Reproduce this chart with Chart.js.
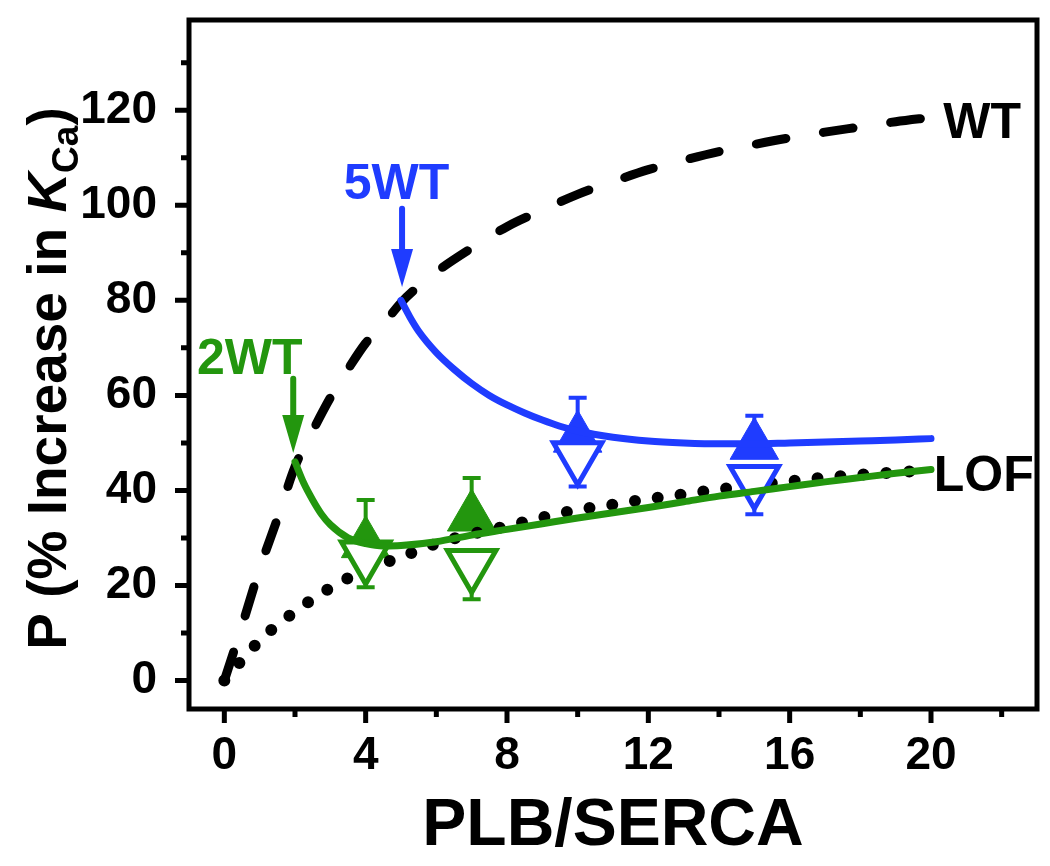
<!DOCTYPE html>
<html lang="en">
<head>
<meta charset="UTF-8">
<title>P vs PLB/SERCA</title>
<script src="https://cdn.jsdelivr.net/npm/chart.js"></script>
<style>
  html, body { margin: 0; padding: 0; background: #fff; }
  #wrap { width: 1050px; height: 866px; }
</style>
</head>
<body>
<div id="wrap"><canvas id="pChart"></canvas></div>
<script>
// WT simulation (dashed)
const wtX = [0, 0.5, 1, 1.5, 2, 2.5, 3, 3.5, 4, 4.5, 5, 5.5, 6, 7, 8, 9, 10, 11, 12, 13, 14, 15, 16, 17, 18, 19, 20];
const wtY = [0, 11.5, 23.5, 34, 45, 52.5, 59.5, 65.5, 71, 75, 79.5, 83, 86, 91, 95.5, 99, 102.3, 105, 107.5, 109.5, 111.3, 112.8, 114.2, 115.4, 116.5, 117.6, 118.5];
// LOF simulation (dotted)
const lofX = [0, 0.5, 1, 1.5, 2, 3, 4, 5, 6, 7, 8, 9, 10, 11, 12, 13, 14, 15, 16, 17, 18, 19, 20];
const lofY = [0, 4.3, 8.4, 11.7, 14.5, 19.5, 23.3, 26, 28.8, 30.8, 32.5, 34.3, 35.9, 37, 38.2, 39.2, 40.2, 41.1, 41.9, 42.7, 43.3, 43.8, 44.3];
// 2WT fit (green)
const fit2X = [2, 2.25, 2.5, 2.75, 3, 3.5, 4, 4.5, 5, 6, 7, 8, 9, 10, 11, 12, 13, 14, 15, 16, 17, 18, 19, 20];
const fit2Y = [46, 41.5, 38, 35, 32.8, 30, 28.8, 28.3, 28.4, 29.2, 30.6, 31.8, 33, 34.2, 35.3, 36.4, 37.6, 38.8, 39.8, 40.8, 41.8, 42.7, 43.6, 44.4];
// 5WT fit (blue)
const fit5X = [5, 5.25, 5.5, 6, 6.5, 7, 7.5, 8, 8.5, 9, 9.5, 10, 11, 12, 13, 14, 15, 16, 17, 18, 19, 20];
const fit5Y = [80, 76.5, 73.5, 69, 65.5, 62.5, 60, 58, 56.3, 54.8, 53.5, 52.5, 51.2, 50.4, 50, 49.8, 49.8, 50, 50.2, 50.4, 50.6, 50.9];
// measured points
const greenX = [4, 7];
const greenUp = [28.8, 34.4];
const greenUpErr = [9.2, 8.2];
const greenDown = [26.2, 24.4];
const greenDownErr = [6.6, 7.3];
const blueX = [10, 15];
const blueUp = [51, 49.5];
const blueUpErr = [8.5, 6.2];
const blueDown = [47.1, 42.1];
const blueDownErr = [6.3, 7.1];
// axis ticks
const xMajor = [0, 4, 8, 12, 16, 20];
const xMinor = [2, 6, 10, 14, 18, 22];
const yMajor = [0, 20, 40, 60, 80, 100, 120];
const yMinor = [10, 30, 50, 70, 90, 110, 130];
// labels and arrows
const noteText = ['WT', 'LOF', '5WT', '2WT'];
const noteX = [20.35, 20.08, 4.87, 0.72];
const noteY = [114.2, 39.8, 101.4, 64.5];
const arrowX = [1.95, 5.03];
const arrowFrom = [63.5, 99.3];
const arrowTo = [47.9, 82.8];

const BLUE = '#1f3cff';
const GREEN = '#23960e';
const FONT = 'Arial, "Liberation Sans", sans-serif';

const pts = (xs, ys) => xs.map((x, i) => ({x: x, y: ys[i]}));

function curve(label, xs, ys, color, order, extra) {
    return Object.assign({
        label: label,
        data: pts(xs, ys),
        showLine: true,
        pointRadius: 0,
        borderColor: color,
        borderWidth: 7,
        borderCapStyle: 'round',
        cubicInterpolationMode: 'monotone',
        fill: false,
        order: order
    }, extra || {});
}

function marks(label, xs, ys, color, open, order) {
    return {
        label: label,
        data: pts(xs, ys),
        showLine: false,
        pointStyle: 'triangle',
        rotation: open ? 180 : 0,
        pointRadius: 28,
        backgroundColor: open ? '#ffffff' : color,
        borderColor: color,
        borderWidth: open ? 5 : 1,
        clip: false,
        order: order
    };
}

// error bars drawn under the markers
const errorBars = {
    id: 'errorBars',
    beforeDatasetsDraw(chart) {
        const ctx = chart.ctx, xs = chart.scales.x, ys = chart.scales.y;
        const sets = [
            [greenX, greenUp, greenUpErr, 1, GREEN],
            [greenX, greenDown, greenDownErr, -1, GREEN],
            [blueX, blueUp, blueUpErr, 1, BLUE],
            [blueX, blueDown, blueDownErr, -1, BLUE]
        ];
        ctx.save();
        ctx.lineWidth = 4;
        sets.forEach(s => {
            ctx.strokeStyle = s[4];
            s[0].forEach((x, i) => {
                const px = xs.getPixelForValue(x);
                const p0 = ys.getPixelForValue(s[1][i]);
                const p1 = ys.getPixelForValue(s[1][i] + s[3] * s[2][i]);
                ctx.beginPath();
                ctx.moveTo(px, p0); ctx.lineTo(px, p1);
                ctx.moveTo(px - 9, p1); ctx.lineTo(px + 9, p1);
                ctx.stroke();
            });
        });
        ctx.restore();
    }
};

// frame, tick marks, y title, text labels and arrows
const decor = {
    id: 'decor',
    afterDraw(chart) {
        const ctx = chart.ctx, xs = chart.scales.x, ys = chart.scales.y;
        const a = chart.chartArea;
        ctx.save();
        ctx.strokeStyle = '#000';
        ctx.lineWidth = 5;
        ctx.strokeRect(a.left, a.top, a.right - a.left, a.bottom - a.top);
        ctx.beginPath();
        xMajor.forEach(v => { const p = xs.getPixelForValue(v); ctx.moveTo(p, a.bottom); ctx.lineTo(p, a.bottom + 14); });
        xMinor.forEach(v => { const p = xs.getPixelForValue(v); ctx.moveTo(p, a.bottom); ctx.lineTo(p, a.bottom + 8); });
        yMajor.forEach(v => { const p = ys.getPixelForValue(v); ctx.moveTo(a.left, p); ctx.lineTo(a.left - 14, p); });
        yMinor.forEach(v => { const p = ys.getPixelForValue(v); ctx.moveTo(a.left, p); ctx.lineTo(a.left - 8, p); });
        ctx.stroke();

        // y title: P (% Increase in K_Ca)
        ctx.translate(66, (a.top + a.bottom) / 2 + 14);
        ctx.rotate(-Math.PI / 2);
        ctx.fillStyle = '#000';
        ctx.textBaseline = 'alphabetic';
        ctx.textAlign = 'left';
        const parts = [
            ['P (% Increase in ', 'bold 55px ' + FONT, 0],
            ['K', 'italic bold 55px ' + FONT, 0],
            ['Ca', 'bold 37px ' + FONT, 12],
            [')', 'bold 55px ' + FONT, 0]
        ];
        let total = 0;
        parts.forEach(p => { ctx.font = p[1]; total += ctx.measureText(p[0]).width; });
        let cx = -total / 2;
        parts.forEach(p => {
            ctx.font = p[1];
            ctx.fillText(p[0], cx, p[2]);
            cx += ctx.measureText(p[0]).width;
        });
        ctx.restore();
    },
    afterDatasetsDraw(chart) {
        const ctx = chart.ctx, xs = chart.scales.x, ys = chart.scales.y;
        const colors = ['#000', '#000', BLUE, GREEN];
        const aligns = ['left', 'left', 'center', 'center'];
        ctx.save();
        ctx.font = 'bold 50px ' + FONT;
        ctx.textBaseline = 'alphabetic';
        noteText.forEach((t, i) => {
            ctx.fillStyle = colors[i];
            ctx.textAlign = aligns[i];
            ctx.fillText(t, xs.getPixelForValue(noteX[i]), ys.getPixelForValue(noteY[i]));
        });
        const arrowColors = [GREEN, BLUE];
        arrowX.forEach((x, i) => {
            const px = xs.getPixelForValue(x);
            const y0 = ys.getPixelForValue(arrowFrom[i]);
            const y1 = ys.getPixelForValue(arrowTo[i]);
            ctx.strokeStyle = arrowColors[i];
            ctx.fillStyle = arrowColors[i];
            ctx.lineWidth = 6;
            ctx.lineCap = 'round';
            ctx.beginPath();
            ctx.moveTo(px, y0); ctx.lineTo(px, y1 - 30);
            ctx.stroke();
            ctx.beginPath();
            ctx.moveTo(px - 11, y1 - 38);
            ctx.lineTo(px + 11, y1 - 38);
            ctx.lineTo(px, y1);
            ctx.closePath();
            ctx.fill();
        });
        ctx.restore();
    }
};

const ctx = document.getElementById('pChart').getContext('2d');
const pChart = new Chart(ctx, {
    type: 'scatter',
    data: {
        datasets: [
            marks('2WT up', greenX, greenUp, GREEN, false, 8),
            marks('5WT up', blueX, blueUp, BLUE, false, 8),
            curve('WT', wtX, wtY, '#000', 6, { borderWidth: 9, borderDash: [30, 38] }),
            curve('LOF', lofX, lofY, '#000', 6, { borderWidth: 12, borderDash: [0, 23] }),
            marks('2WT down', greenX, greenDown, GREEN, true, 5),
            marks('5WT down', blueX, blueDown, BLUE, true, 5),
            curve('2WT fit', fit2X, fit2Y, GREEN, 4),
            curve('5WT fit', fit5X, fit5Y, BLUE, 4)
        ]
    },
    options: {
        responsive: true,
        maintainAspectRatio: false,
        animation: false,
        events: [],
        layout: { autoPadding: false, padding: { top: 20, right: 13, left: 0, bottom: 0 } },
        plugins: {
            legend: { display: false },
            tooltip: { enabled: false }
        },
        scales: {
            x: {
                type: 'linear',
                min: -1,
                max: 23,
                afterBuildTicks: s => { s.ticks = xMajor.map(v => ({ value: v })); },
                afterFit: s => { s.height = 157; s.paddingLeft = 0; s.paddingRight = 0; },
                grid: { display: false, drawTicks: false },
                border: { display: false },
                ticks: { color: '#000', padding: 20, font: { family: FONT, size: 46, weight: 'bold' } },
                title: { display: true, text: 'PLB/SERCA', color: '#000', padding: 0, font: { family: FONT, size: 66, weight: 'bold' } }
            },
            y: {
                type: 'linear',
                min: -6,
                max: 139,
                afterBuildTicks: s => { s.ticks = yMajor.map(v => ({ value: v })); },
                afterFit: s => { s.width = 189; s.paddingTop = 0; s.paddingBottom = 0; },
                grid: { display: false, drawTicks: false },
                border: { display: false },
                ticks: { color: '#000', padding: 32, font: { family: FONT, size: 46, weight: 'bold' } }
            }
        }
    },
    plugins: [errorBars, decor]
});
</script>
</body>
</html>
